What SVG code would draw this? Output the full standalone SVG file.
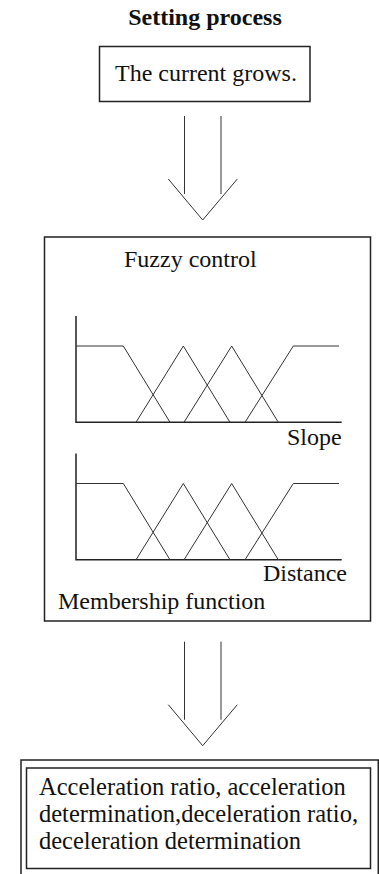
<svg xmlns="http://www.w3.org/2000/svg" width="379" height="874" viewBox="0 0 379 874">
<style>
text{font-family:"Liberation Serif","Times New Roman",serif;font-size:24px;fill:#111}
.b{font-weight:bold}
.r{font-size:24.5px}
.box{fill:none;stroke:#222;stroke-width:1.5}
.ln{fill:none;stroke:#333;stroke-width:1}
.ax{fill:none;stroke:#222;stroke-width:1.5}
</style>
<defs>
<g id="chart">
<polyline class="ax" points="76,316 76,422.3 341.7,422.3"/>
<polyline class="ln" points="76,346 123.3,346 170,422.3"/>
<polyline class="ln" points="136,422.3 183.3,346 230,422.3"/>
<polyline class="ln" points="184,422.3 231.7,346 278.3,422.3"/>
<polyline class="ln" points="245,422.3 293.3,346 339,346"/>
</g>
<g id="arrow">
<line class="ln" x1="184.5" y1="0" x2="184.5" y2="78"/>
<line class="ln" x1="221" y1="0" x2="221" y2="78"/>
<polyline class="ln" points="168.3,63 202.7,104 237.3,63"/>
</g>
</defs>
<text id="title" class="b" x="205" y="25" text-anchor="middle">Setting process</text>
<g id="node-current">
<rect class="box" x="99.5" y="46.5" width="210.5" height="55"/>
<text x="115" y="81">The current grows.</text>
</g>
<g id="node-fuzzy">
<rect class="box" x="44.5" y="237" width="326" height="384"/>
<text x="124" y="267.3">Fuzzy control</text>
<use href="#chart"/>
<text x="287" y="445">Slope</text>
<use href="#chart" transform="translate(0,137.5)"/>
<text x="263" y="580.7">Distance</text>
<text x="58" y="609.3">Membership function</text>
</g>
<g id="connectors">
<use href="#arrow" transform="translate(0,116)"/>
<use href="#arrow" transform="translate(0,641.7)"/>
</g>
<g id="node-result">
<path class="box" d="M21,874 V760 H378.3 V874"/>
<rect class="box" x="26.5" y="768" width="344" height="100.5"/>
<text class="r" x="39" y="795">Acceleration ratio, acceleration</text>
<text class="r" x="39" y="822">determination,deceleration ratio,</text>
<text class="r" x="39" y="849">deceleration determination</text>
</g>
</svg>
